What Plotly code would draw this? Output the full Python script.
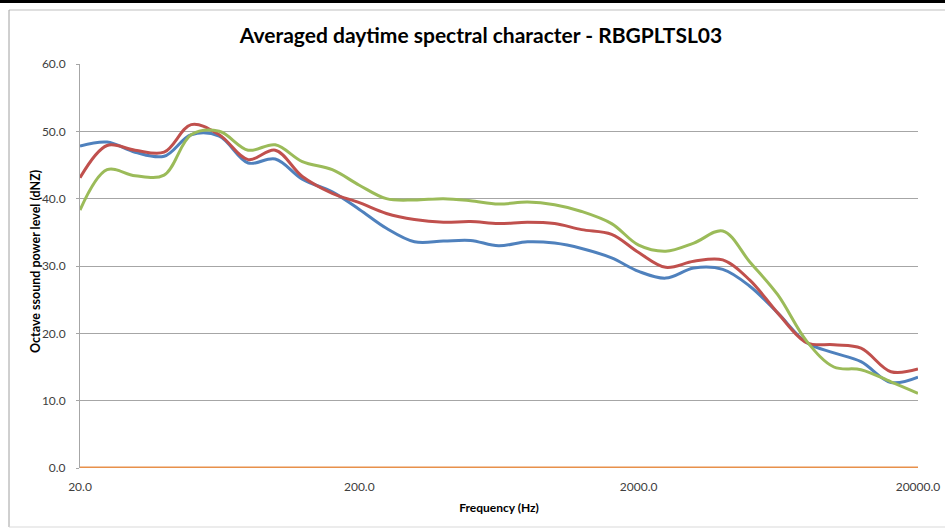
import plotly.graph_objects as go

freqs = [20, 25, 31.5, 40, 50, 63, 80, 100, 125, 160, 200, 250, 315, 400, 500, 630,
         800, 1000, 1250, 1600, 2000, 2500, 3150, 4000, 5000, 6300, 8000, 10000,
         12500, 16000, 20000]

blue = [47.8, 48.4, 46.9, 46.3, 49.5, 49.3, 45.3, 45.9, 42.9, 41.0, 38.4, 35.6, 33.6,
        33.7, 33.8, 33.0, 33.6, 33.4, 32.6, 31.2, 29.2, 28.2, 29.7, 29.5, 27.0, 23.0,
        18.6, 17.1, 15.8, 12.7, 13.5]
red = [43.1, 47.9, 47.2, 46.9, 51.0, 49.5, 45.8, 47.2, 43.3, 40.8, 39.4, 37.8, 36.9,
       36.5, 36.6, 36.3, 36.5, 36.3, 35.4, 34.7, 32.0, 29.8, 30.7, 30.9, 27.9, 23.0,
       18.6, 18.3, 17.8, 14.3, 14.7]
green = [38.3, 44.3, 43.4, 43.5, 49.5, 50.0, 47.2, 48.0, 45.5, 44.3, 42.0, 40.0, 39.8,
         40.0, 39.7, 39.2, 39.5, 39.1, 38.1, 36.3, 33.1, 32.2, 33.4, 35.2, 30.6, 25.7,
         18.8, 15.0, 14.6, 12.8, 11.1]
orange = [0.0] * len(freqs)

x_ticks = [20, 200, 2000, 20000]
x_ticktext = ["20.0", "200.0", "2000.0", "20000.0"]
y_ticks = [0, 10, 20, 30, 40, 50, 60]
y_ticktext = ["0.0", "10.0", "20.0", "30.0", "40.0", "50.0", "60.0"]

series = [
    ("Series 1", blue, "#4F81BD"),
    ("Series 2", red, "#C0504D"),
    ("Series 3", green, "#9BBB59"),
    ("Series 4", orange, "#E8904A"),
]

fig = go.Figure()
for name, vals, col in series:
    fig.add_trace(go.Scatter(
        x=freqs, y=vals, mode="lines", name=name,
        line=dict(color=col, width=3, shape="spline", smoothing=1.0),
        cliponaxis=False,
    ))

W, H = 945, 529
L, R, T, B = 80, 918, 64, 468
pw, ph = R - L, B - T

def px(x):
    return (x - L) / pw

def py(y):
    return (B - y) / ph

FONT = "Lato, 'Open Sans', sans-serif"

fig.update_layout(
    width=W, height=H,
    margin=dict(l=L, r=W - R, t=T, b=H - B, autoexpand=False),
    paper_bgcolor="white", plot_bgcolor="white",
    showlegend=False,
    font=dict(family=FONT, size=12, color="#404040"),
    title=dict(text="<b>Averaged daytime spectral character - RBGPLTSL03</b>",
               x=481 / W, xanchor="center", y=1 - 36 / H, yanchor="middle",
               font=dict(size=21, color="black", family=FONT)),
    xaxis=dict(type="log", range=[1.30103, 4.30103], tickvals=x_ticks, ticktext=x_ticktext,
               showgrid=False, zeroline=False, showline=False, ticks="",
               automargin=False, ticklabelstandoff=10,
               tickfont=dict(size=12, color="#404040"),
               title=dict(text="<b>Frequency (Hz)</b>", standoff=10,
                          font=dict(size=12, color="black"))),
    yaxis=dict(range=[0, 60], tickvals=y_ticks, ticktext=y_ticktext,
               showgrid=True, gridcolor="#A6A6A6", gridwidth=1, zeroline=False,
               showline=True, linecolor="#A6A6A6", linewidth=1,
               ticks="outside", ticklen=3, tickcolor="#A6A6A6",
               automargin=False, ticklabelstandoff=8,
               tickfont=dict(size=12, color="#404040")),
    annotations=[
        dict(text="<b>Octave ssound power level (dNZ)</b>", xref="paper", yref="paper",
             x=px(35), y=py(262), xanchor="center", yanchor="middle", textangle=-90,
             showarrow=False, font=dict(size=12.5, color="black", family=FONT)),
    ],
    shapes=[
        dict(type="rect", xref="paper", yref="paper",
             x0=px(-5), x1=px(W + 5), y0=py(3), y1=py(-5),
             fillcolor="black", line=dict(width=0), layer="above"),
        dict(type="line", xref="paper", yref="paper",
             x0=px(9), x1=px(W + 5), y0=py(10), y1=py(10),
             line=dict(color="#BFBFBF", width=1)),
        dict(type="line", xref="paper", yref="paper",
             x0=px(9), x1=px(9), y0=py(10), y1=py(527),
             line=dict(color="#A0A0A0", width=1)),
        dict(type="line", xref="paper", yref="paper",
             x0=px(9), x1=px(W + 5), y0=py(527), y1=py(527),
             line=dict(color="#D9D9D9", width=1)),
    ],
)

fig.write_html("out.html", config={"displayModeBar": False},
               post_script="document.body.style.margin='0px';document.body.style.overflow='hidden';")
